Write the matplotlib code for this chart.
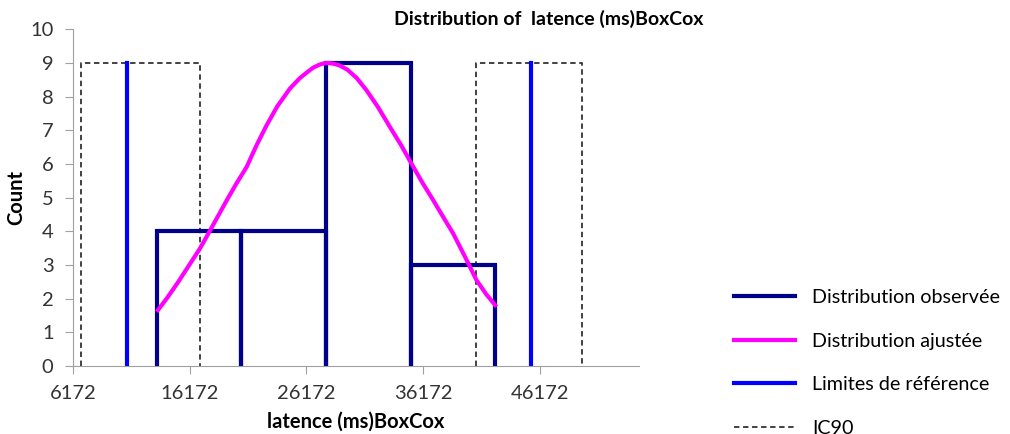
import matplotlib
matplotlib.use('Agg')
import matplotlib.pyplot as plt
from matplotlib.lines import Line2D

plt.rcParams['font.family'] = ['Lato', 'DejaVu Sans']

# histogram bins (edges) and counts
bin_edges = [13345, 20605, 27865, 35125, 42385]
counts = [4, 4, 9, 3]

# fitted curve, points
fit_x = [13345, 14300, 15200, 16100, 17055, 17850, 18600, 19400, 20200, 21055,
         21900, 22770, 23700, 24770, 25620, 26300, 26760, 27300, 27700, 28050,
         28500, 29000, 29700, 30500, 31330, 32300, 33340, 34300, 35190, 36100,
         37045, 37900, 38760, 39800, 40765, 41600, 42480]
fit_y = [1.61, 2.05, 2.50, 2.98, 3.49, 3.98, 4.45, 4.95, 5.43, 5.91,
         6.55, 7.15, 7.72, 8.24, 8.55, 8.74, 8.86, 8.95, 8.99, 9.00,
         8.98, 8.93, 8.80, 8.55, 8.19, 7.70, 7.10, 6.56, 6.01, 5.46,
         4.93, 4.43, 3.94, 3.23, 2.55, 2.13, 1.76]

# reference limits and 90% CI boxes
ref_limits = [10772, 45480]
ic90_boxes = [(6880, 17055), (40765, 49850)]
ic90_height = 9

xticks = [6172, 16172, 26172, 36172, 46172]

navy = '#00008B'
blue = '#0000FF'
magenta = '#FF00FF'

fig = plt.figure(figsize=(10.1, 4.34), dpi=100)
ax = fig.add_axes([0.0723, 0.1567, 0.5604, 0.7758])

# IC90 dashed boxes
for lo, hi in ic90_boxes:
    ax.plot([lo, lo, hi, hi], [0, ic90_height, ic90_height, 0],
            color='#333333', lw=1.3, ls=(0, (3, 2)))

# observed histogram outline
for i, h in enumerate(counts):
    l, r = bin_edges[i], bin_edges[i + 1]
    ax.plot([l, l, r, r], [0, h, h, 0], color=navy, lw=3, solid_joinstyle='miter')

# reference limits
for x in ref_limits:
    ax.plot([x, x], [0, ic90_height], color=blue, lw=3)

# fitted distribution
ax.plot(fit_x, fit_y, color=magenta, lw=3, solid_capstyle='butt')

ax.set_xlim(6172, 54700)
ax.set_ylim(0, 10)
ax.set_xticks(xticks)
ax.set_xticklabels([str(t) for t in xticks])
ax.set_yticks(range(0, 11))
for s in ['top', 'right']:
    ax.spines[s].set_visible(False)
for s in ['left', 'bottom']:
    ax.spines[s].set_color('#a0a0a0')
ax.tick_params(axis='both', colors='#a0a0a0', labelcolor='#333333',
               labelsize=14.5, length=6)
ax.tick_params(axis='x', pad=8)
ax.tick_params(axis='y', pad=8)

ax.set_xlabel('latence (ms)BoxCox', fontsize=14.5, fontweight='bold', labelpad=7)
ax.set_ylabel('Count', fontsize=14.5, fontweight='bold')
ax.yaxis.set_label_coords(-0.083, 0.5)
fig.text(0.5436, 0.957, 'Distribution of  latence (ms)BoxCox', ha='center',
         va='center', fontsize=14, fontweight='bold')

handles = [
    Line2D([], [], color=navy, lw=3),
    Line2D([], [], color=magenta, lw=3),
    Line2D([], [], color=blue, lw=3),
    Line2D([], [], color='#333333', lw=1.3, ls=(0, (3, 2))),
]
labels = ['Distribution observée', 'Distribution ajustée',
          'Limites de référence', 'IC90']
fig.legend(handles, labels, loc='upper left', bbox_to_anchor=(0.727, 0.334),
           frameon=False, fontsize=14.2, handlelength=3.1, handletextpad=0.85,
           labelspacing=1.35, borderpad=0, borderaxespad=0)

fig.savefig('out.png', dpi=100)
